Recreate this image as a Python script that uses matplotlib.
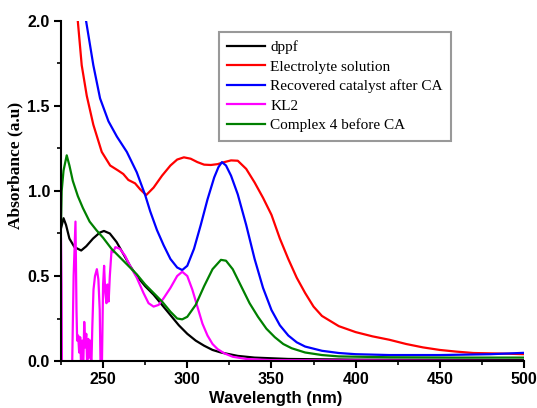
import numpy as np
import matplotlib
matplotlib.use("Agg")
import matplotlib.pyplot as plt
from matplotlib.ticker import MultipleLocator, FormatStrFormatter

# dppf
dppf_wl = [225, 226.5, 228, 230, 233, 237, 240, 244, 248, 250.5, 254, 258, 262, 266, 270, 275,
           280, 285, 290, 295, 300, 305, 310, 315, 320, 330, 340, 360, 400, 500]
dppf_abs = [0.78, 0.84, 0.80, 0.72, 0.67, 0.65, 0.675, 0.72, 0.755, 0.765, 0.75, 0.70, 0.63,
            0.56, 0.50, 0.44, 0.39, 0.33, 0.27, 0.21, 0.16, 0.12, 0.09, 0.065, 0.05, 0.03,
            0.02, 0.012, 0.008, 0.005]

# Electrolyte solution
elec_wl = [234.8, 237.3, 240.3, 244.2, 249.2, 254.2, 259, 262, 265, 269, 272, 275.6, 280,
           285, 290, 294, 298, 302, 306, 310, 314, 318, 322, 326, 330, 335, 340, 345, 350,
           355, 360, 365, 370, 375, 380, 390, 400, 410, 420, 430, 440, 450, 460, 470, 480,
           490, 500]
elec_abs = [2.02, 1.74, 1.56, 1.39, 1.23, 1.15, 1.12, 1.10, 1.065, 1.045, 1.01, 0.976, 1.02,
            1.09, 1.15, 1.185, 1.198, 1.19, 1.17, 1.155, 1.153, 1.158, 1.17, 1.18, 1.178,
            1.13, 1.05, 0.96, 0.86, 0.72, 0.60, 0.49, 0.40, 0.32, 0.265, 0.205, 0.17, 0.145,
            0.125, 0.10, 0.08, 0.065, 0.055, 0.047, 0.045, 0.043, 0.04]

# Recovered catalyst after CA
rec_wl = [239.9, 244.2, 248.2, 253.2, 258.2, 264.1, 270, 275, 278, 282, 286, 290, 294, 297,
          300, 304, 308, 312, 316, 318.5, 320.6, 323, 326, 330, 335, 340, 345, 350, 355, 360,
          365, 370, 380, 390, 400, 420, 450, 480, 500]
rec_abs = [2.0, 1.74, 1.545, 1.41, 1.32, 1.23, 1.11, 0.976, 0.88, 0.77, 0.68, 0.60, 0.55,
           0.535, 0.56, 0.66, 0.80, 0.95, 1.08, 1.14, 1.17, 1.15, 1.09, 0.98, 0.80, 0.60,
           0.43, 0.30, 0.21, 0.15, 0.11, 0.085, 0.06, 0.047, 0.04, 0.035, 0.035, 0.04, 0.048]

# KL2
kl2_wl = [225, 225.3, 225.6, 231.5, 232.5, 233.6, 234.2, 234.6, 235.2, 235.8, 236.4, 237,
          237.6, 238.2, 238.8, 239.4, 240, 240.6, 241.2, 241.8, 242.4, 243, 243.6, 244.3,
          245.2, 246.3, 247.2, 248, 248.6, 249.2, 250, 250.6, 251.3, 252, 252.6, 253.3, 254,
          255, 256, 257.3, 260, 263, 266, 270, 274, 277, 280, 283, 286, 290, 294, 297, 300,
          303, 306, 309, 312, 315, 318, 322, 327, 335, 350, 500]
kl2_abs = [0.72, 0.45, -0.1, -0.1, 0.5, 0.82, 0.3, 0.12, 0.15, 0.05, 0.14, -0.05, 0.12,
           -0.05, 0.23, 0.08, 0.16, -0.05, 0.13, 0.02, 0.12, -0.05, 0.2, 0.42, 0.5, 0.54,
           0.48, 0.30, -0.1, -0.1, 0.45, 0.56, 0.40, 0.34, 0.45, 0.35, 0.5, 0.65, 0.64, 0.67,
           0.66, 0.62, 0.56, 0.49, 0.40, 0.34, 0.32, 0.33, 0.37, 0.43, 0.50, 0.525, 0.50,
           0.42, 0.32, 0.22, 0.15, 0.10, 0.07, 0.045, 0.025, 0.012, 0.005, 0.0]

# Complex 4 before CA
c4_wl = [225, 225.4, 226.5, 228.4, 230, 232, 235, 238, 242, 246, 250, 255, 260, 265, 270,
         275, 280, 285, 290, 294, 297, 300, 305, 310, 315, 320, 323, 327, 332, 337, 342, 347,
         352, 357, 362, 370, 380, 390, 420, 460, 500]
c4_abs = [0.80, 1.0, 1.12, 1.21, 1.15, 1.06, 0.97, 0.90, 0.82, 0.77, 0.725, 0.66, 0.61,
          0.56, 0.51, 0.45, 0.40, 0.35, 0.29, 0.25, 0.245, 0.26, 0.33, 0.44, 0.54, 0.595,
          0.59, 0.54, 0.44, 0.34, 0.26, 0.19, 0.14, 0.10, 0.075, 0.05, 0.035, 0.027, 0.022,
          0.02, 0.02]

fig = plt.figure(figsize=(5.37, 4.08), dpi=100)
ax = fig.add_axes([61 / 537, 47 / 408, 463 / 537, 340 / 408])

lw = 1.6
ax.plot(dppf_wl, dppf_abs, color="black", lw=lw, label="dppf")
ax.plot(elec_wl, elec_abs, color="red", lw=lw, label="Electrolyte solution")
ax.plot(rec_wl, rec_abs, color="blue", lw=lw, label="Recovered catalyst after CA")
ax.plot(kl2_wl, kl2_abs, color="magenta", lw=lw, label="KL2")
ax.plot(c4_wl, c4_abs, color="green", lw=lw, label="Complex 4 before CA")

ax.set_xlim(225, 500)
ax.set_ylim(0, 2.0)
ax.spines["top"].set_visible(False)
ax.spines["right"].set_visible(False)
ax.spines["left"].set_linewidth(1.5)
ax.spines["bottom"].set_linewidth(1.5)

ax.xaxis.set_major_locator(MultipleLocator(50))
ax.xaxis.set_minor_locator(MultipleLocator(25))
ax.yaxis.set_major_locator(MultipleLocator(0.5))
ax.yaxis.set_minor_locator(MultipleLocator(0.25))
ax.yaxis.set_major_formatter(FormatStrFormatter("%.1f"))
ax.tick_params(which="major", direction="out", length=5, width=1.5, pad=3)
ax.tick_params(which="minor", direction="out", length=3, width=1.2)
for lab in ax.get_xticklabels() + ax.get_yticklabels():
    lab.set_fontfamily("Liberation Sans")
    lab.set_fontweight("bold")
    lab.set_fontsize(11.5)

ax.set_xlabel("Wavelength (nm)", fontfamily="Liberation Sans", fontweight="bold",
              fontsize=12)
ax.xaxis.set_label_coords(0.464, -0.088)
ax.set_ylabel("Absorbance (a.u)", fontfamily="Liberation Serif", fontweight="bold",
              fontsize=12.5)
ax.yaxis.set_label_coords(-0.082, 0.574)

leg = ax.legend(loc="upper left", bbox_to_anchor=(0.341, 0.968), borderaxespad=0,
                prop={"family": "Liberation Serif", "size": 11}, fancybox=False,
                edgecolor="#999999", framealpha=1, handlelength=2.5, handletextpad=0.3,
                labelspacing=0.38, borderpad=0.55)
leg.get_frame().set_linewidth(1.5)

fig.savefig("out.png", dpi=100)
